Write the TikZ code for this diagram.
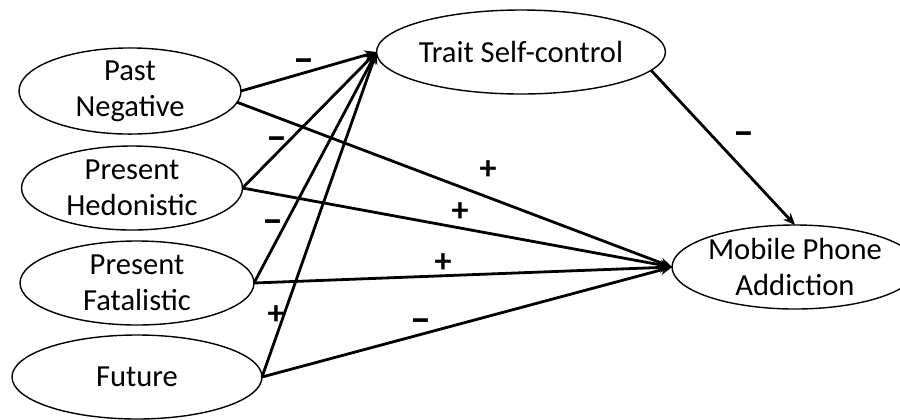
\documentclass[tikz,border=0pt]{standalone}
\usepackage{fontspec}
\setmainfont{Carlito}
\usetikzlibrary{shapes.geometric,arrows.meta}
\begin{document}
\begin{tikzpicture}[x=0.5pt,y=-0.5pt,
  construct/.style={draw, ellipse, line width=0.7pt, inner sep=0pt, outer sep=0pt,
    minimum height=42pt, align=center,
    font=\fontsize{15.3}{18}\selectfont},
  link/.style={line width=1.4pt, -{Stealth[length=6pt,width=5pt]}},
  sign/.style={font=\fontsize{17}{18}\selectfont\bfseries, inner sep=0pt},
  negsign/.style={sign, font=\fontsize{21}{18}\selectfont\bfseries}]
\useasboundingbox (0,0) rectangle (900,419);
\fill[white] (0,0) rectangle (900,419);

% time perspectives
\node[construct, minimum width=111pt]   (pn)  at (130,91)  {Past\\Negative};
\node[construct, minimum width=110.5pt] (ph)  at (132,188) {Present\\Hedonistic};
\node[construct, minimum width=117pt]   (pf)  at (137,283) {Present\\Fatalistic};
\node[construct, minimum width=125pt]   (fu)  at (137,377) {Future};

% mediator and outcome
\node[construct, minimum width=120.5pt] (tsc) at (521,52)  {Trait Self-control};
\node[construct, minimum width=103pt]   (mpa) at (795,267) {Mobile Phone\\Addiction};

% paths to self-control
\draw[link] (pn.east) -- (tsc.west);
\draw[link] (ph.east) -- (tsc.west);
\draw[link] (pf.east) -- (tsc.west);
\draw[link] (fu.east) -- (tsc.west);

% paths to addiction
\draw[link] (pn.-6) -- (mpa.west);
\draw[link] (ph.east) -- (mpa.west);
\draw[link] (pf.east) -- (mpa.west);
\draw[link] (fu.east) -- (mpa.west);
\draw[link] (tsc.-8) -- (mpa.north);

% signs of the effects
\node[negsign] (s1) at (304,66)  {–};
\node[negsign] (s2) at (277,144) {–};
\node[negsign] (s3) at (273,227) {–};
\node[sign]    (s4) at (276,315) {+};
\node[sign]    (s5) at (488,170) {+};
\node[sign]    (s6) at (460,212) {+};
\node[sign]    (s7) at (443,263) {+};
\node[negsign] (s8) at (421,326) {–};
\node[negsign] (s9) at (744,139) {–};
\end{tikzpicture}
\end{document}
